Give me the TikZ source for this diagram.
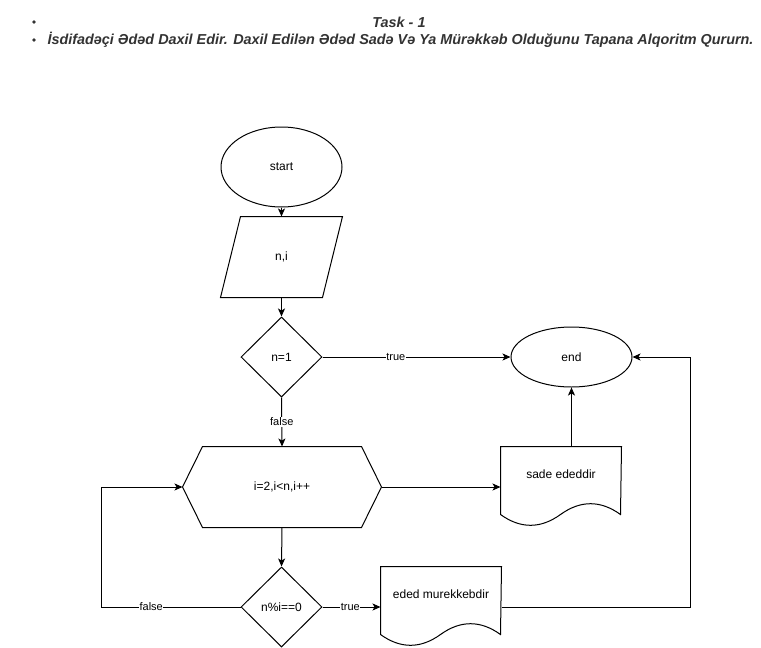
\documentclass[tikz,border=0pt]{standalone}
\usepackage{fontspec}
\setmainfont{Liberation Sans}
\usetikzlibrary{shapes.geometric,arrows.meta,calc}
\definecolor{titlegray}{HTML}{333333}
\begin{document}
\begin{tikzpicture}[x=1pt,y=-1pt,
  base/.style={font=\fontsize{12}{14}\selectfont, inner sep=0pt, text=black},
  term/.style={base, ellipse, draw, minimum width=121, minimum height=#1},
  dec/.style={base, diamond, draw, minimum width=81, minimum height=80},
  frame/.style={base, minimum width=#1, minimum height=80},
  lbl/.style={font=\fontsize{11}{13}\selectfont, fill=white, inner sep=0.5pt},
  arr/.style={-{Stealth[length=8pt,width=7pt,inset=2pt]}},
  title/.style={font=\fontsize{14.4}{16}\selectfont\bfseries\itshape, text=titlegray, inner sep=0pt},
  bul/.style={circle, fill=titlegray, inner sep=0pt, minimum size=3.6pt},
  line width=1pt
]
\useasboundingbox (0,0) rectangle (761,648);
% title
\node[bul] (b1) at (34,22) {};
\node[bul] (b2) at (34,40) {};
\node[title] (t1) at (399,22) {Task - 1};
\node[title, anchor=west] (t2) at (47,40) {İsdifadəçi Ədəd Daxil Edir. Daxil Edilən Ədəd Sadə Və Ya Mürəkkəb Olduğunu Tapana Alqoritm Qururn.};

% nodes
\node[term=80] (start) at (281.5,167) {start};
\node[frame=121] (inp) at (281.5,257) {n,i};
\draw ($(inp.north west)+(20,0)$) -- (inp.north east) -- ($(inp.south east)-(20,0)$) -- (inp.south west) -- cycle;
\node[dec] (d1) at (281.5,357) {n=1};
\node[term=60] (end) at (571.5,357) {end};
\node[frame=198] (loop) at (282,487) {i=2,i<n,i++};
\draw (loop.west) -- ($(loop.north west)+(20,0)$) -- ($(loop.north east)-(20,0)$) -- (loop.east) -- ($(loop.south east)-(20,0)$) -- ($(loop.south west)+(20,0)$) -- cycle;
\node[dec] (d2) at (281.5,607) {n\%i==0};

% documents
\node[frame=120] (sade) at (561,487) {};
\node[base] (sadet) at ($(sade.north)+(0,28)$) {sade ededdir};
\draw (sade.north west) -- (sade.north east) -- ($(sade.north west)+(120,68)$)
  .. controls ($(sade.north west)+(100,53.6)$) and ($(sade.north west)+(80,53.6)$) .. ($(sade.north west)+(60,68)$)
  .. controls ($(sade.north west)+(40,82.4)$) and ($(sade.north west)+(20,82.4)$) .. ($(sade.north west)+(0,68)$) -- cycle;
\node[frame=120] (mur) at (441,607) {};
\node[base] (murt) at ($(mur.north)+(0,28)$) {eded murekkebdir};
\draw (mur.north west) -- (mur.north east) -- ($(mur.north west)+(120,68)$)
  .. controls ($(mur.north west)+(100,53.6)$) and ($(mur.north west)+(80,53.6)$) .. ($(mur.north west)+(60,68)$)
  .. controls ($(mur.north west)+(40,82.4)$) and ($(mur.north west)+(20,82.4)$) .. ($(mur.north west)+(0,68)$) -- cycle;

% connectors
\draw[arr] (start) -- (inp);
\draw[arr] (inp) -- (d1);
\draw[arr] (d1.east) -- node[lbl, pos=0.39] {true} (end.west);
\draw[arr] (d1.south) -- node[lbl, pos=0.5] {false} (loop.north);
\draw[arr] (loop.east) -- (sade.west);
\draw[arr] (end.south |- sade.north) -- (end.south);
\draw[arr] (loop.south) -- (d2.north);
\coordinate (lft) at (101,607);
\draw[arr] (d2.west) -- node[lbl, pos=0.64] {false} (lft) |- (loop.west);
\draw[arr] (d2.east) -- node[lbl, pos=0.48] {true} (mur.west);
\coordinate (rgt) at (690,607);
\draw[arr] (mur.east) -- (rgt) |- (end.east);
\end{tikzpicture}
\end{document}
